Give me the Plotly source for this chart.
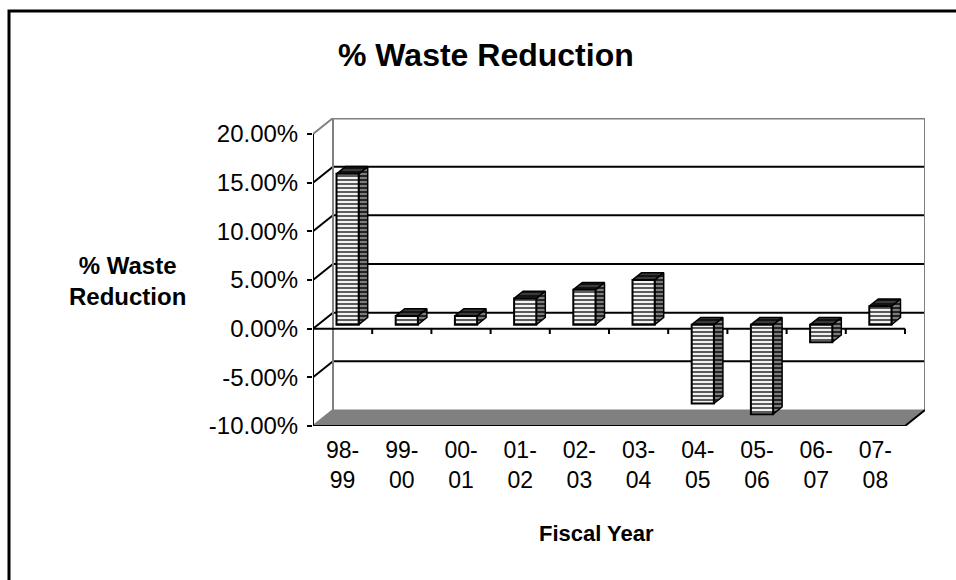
import plotly.graph_objects as go

# ---- data -------------------------------------------------------------
categories = ["98-<br>99", "99-<br>00", "00-<br>01", "01-<br>02", "02-<br>03",
              "03-<br>04", "04-<br>05", "05-<br>06", "06-<br>07", "07-<br>08"]
waste_reduction = [0.155, 0.009, 0.009, 0.027, 0.036, 0.046,
                   -0.081, -0.092, -0.018, 0.019]
y_tick_values = [-0.10, -0.05, 0.0, 0.05, 0.10, 0.15, 0.20]
y_tick_labels = ["-10.00%", "-5.00%", "0.00%", "5.00%", "10.00%", "15.00%", "20.00%"]

# ---- 3-D look: oblique projection of the depth axis ---------------------
DX = 0.338      # depth shift along x (category units)
DY = 0.01644    # depth shift along y (value units)
FRONT, BACK = 0.25, 0.70   # depth fractions of a column's front/back face
BAR_W = 0.375
Y_MIN, Y_MAX = y_tick_values[0], y_tick_values[-1]
n = len(categories)
X_MIN, X_MAX = -0.5, n - 0.5
TICK = 0.0055

W, H = 956, 580
ML, MR, MT, MB = 313, 31, 118, 154

FONT = "Liberation Sans, Arial, sans-serif"
GRAY = "#808080"

fig = go.Figure()
shapes = []


def line(x0, y0, x1, y1, color="black", width=2):
    shapes.append(dict(type="line", xref="x", yref="y", x0=x0, y0=y0, x1=x1, y1=y1,
                       line=dict(color=color, width=width), layer="below"))


# floor
shapes.append(dict(type="path", xref="x", yref="y", layer="below",
                   path=f"M{X_MIN},{Y_MIN} L{X_MAX},{Y_MIN} L{X_MAX + DX},{Y_MIN + DY} "
                        f"L{X_MIN + DX},{Y_MIN + DY} Z",
                   fillcolor=GRAY, line=dict(color=GRAY, width=1)))

# back wall gridlines and side-wall diagonals
for v in y_tick_values:
    edge = v in (Y_MIN, Y_MAX)
    if not edge:
        line(X_MIN + DX, v + DY, X_MAX + DX, v + DY, "black", 2)
    line(X_MIN, v, X_MIN + DX, v + DY, GRAY if edge else "black", 2)

# back wall outline
line(X_MIN + DX, Y_MIN + DY, X_MIN + DX, Y_MAX + DY, GRAY, 2)
line(X_MIN + DX, Y_MAX + DY, X_MAX + DX, Y_MAX + DY, GRAY, 3)
line(X_MAX + DX, Y_MIN + DY, X_MAX + DX, Y_MAX + DY, GRAY, 2)

# front value axis, zero line and floor front edge with category ticks
line(X_MIN, Y_MIN, X_MIN, Y_MAX, "black", 2)
line(X_MIN, 0, X_MAX, 0, "black", 2)
line(X_MIN, Y_MIN, X_MAX, Y_MIN, "black", 2)
line(X_MAX, Y_MIN, X_MAX + DX, Y_MIN + DY, "black", 2)
for k in range(n + 1):
    xb = X_MIN + k
    line(xb, 0, xb, -TICK, "black", 2)
    line(xb, Y_MIN, xb, Y_MIN - TICK * 1.3, "black", 2)

# ---- columns ------------------------------------------------------------
front_pattern = dict(shape="-", bgcolor="#f2f2f2", fgcolor="#5c5c5c",
                     size=4, solidity=0.5, fillmode="replace")
side_pattern = dict(shape="-", bgcolor="#7c7c7c", fgcolor="#222222",
                    size=4, solidity=0.5, fillmode="replace")
top_pattern = dict(shape="-", bgcolor="#3a3a3a", fgcolor="#0e0e0e",
                   size=4, solidity=0.45, fillmode="replace")

xs, heights, bases = [], [], []
ddx, ddy = (BACK - FRONT) * DX, (BACK - FRONT) * DY
for i, v in enumerate(waste_reduction):
    lo, hi = min(0.0, v), max(0.0, v)
    xc = i + FRONT * DX
    fb, ft = lo + FRONT * DY, hi + FRONT * DY
    xl, xr = xc - BAR_W / 2, xc + BAR_W / 2
    xs.append(xc)
    heights.append(hi - lo)
    bases.append(fb)
    # right side face
    fig.add_trace(go.Scatter(
        x=[xr, xr + ddx, xr + ddx, xr, xr],
        y=[fb, fb + ddy, ft + ddy, ft, fb],
        mode="lines", fill="toself", fillpattern=side_pattern,
        line=dict(color="black", width=1.5), hoverinfo="skip", zorder=1))
    # top face
    fig.add_trace(go.Scatter(
        x=[xl, xr, xr + ddx, xl + ddx, xl],
        y=[ft, ft, ft + ddy, ft + ddy, ft],
        mode="lines", fill="toself", fillpattern=top_pattern,
        line=dict(color="black", width=1.5), hoverinfo="skip", zorder=1))

fig.add_trace(go.Bar(
    x=xs, y=heights, base=bases, width=BAR_W,
    marker=dict(pattern=front_pattern, line=dict(color="black", width=2)),
    customdata=waste_reduction, hovertemplate="%{customdata:.2%}<extra></extra>",
    zorder=2))

# ---- layout ---------------------------------------------------------------
pw, ph = W - ML - MR, H - MT - MB


def paper_x(px):
    return (px - ML) / pw


def paper_y(py):
    return 1 - (py - MT) / ph


shapes.append(dict(type="rect", xref="paper", yref="paper",
                   x0=paper_x(9), x1=paper_x(W + 20), y0=paper_y(H + 20), y1=paper_y(11),
                   line=dict(color="black", width=3), layer="above"))

fig.update_layout(
    width=W, height=H,
    margin=dict(l=ML, r=MR, t=MT, b=MB, autoexpand=False),
    paper_bgcolor="white", plot_bgcolor="white",
    showlegend=False,
    font=dict(family=FONT, color="black", size=24),
    xaxis=dict(range=[X_MIN, X_MAX + DX], tickvals=list(range(n)), ticktext=categories,
               ticks="", showgrid=False, zeroline=False, showline=False,
               tickfont=dict(size=23), ticklabelstandoff=8, fixedrange=True),
    yaxis=dict(range=[Y_MIN, Y_MAX + DY], tickvals=y_tick_values, ticktext=y_tick_labels,
               ticks="outside", ticklen=5, tickwidth=2, tickcolor="black",
               showgrid=False, zeroline=False, showline=False,
               tickfont=dict(size=24), ticklabelstandoff=4, fixedrange=True),
    shapes=shapes,
    annotations=[
        dict(text="<b>% Waste Reduction</b>", xref="paper", yref="paper",
             x=paper_x(486), y=paper_y(55), xanchor="center", yanchor="middle",
             showarrow=False, font=dict(size=32)),
        dict(text="<b>% Waste<br>Reduction</b>", xref="paper", yref="paper",
             x=paper_x(127), y=paper_y(281), xanchor="center", yanchor="middle",
             showarrow=False, font=dict(size=24)),
        dict(text="<b>Fiscal Year</b>", xref="paper", yref="paper",
             x=paper_x(596), y=paper_y(533), xanchor="center", yanchor="middle",
             showarrow=False, font=dict(size=22)),
    ],
)

fig.write_html("out.html", config={"displayModeBar": False})
